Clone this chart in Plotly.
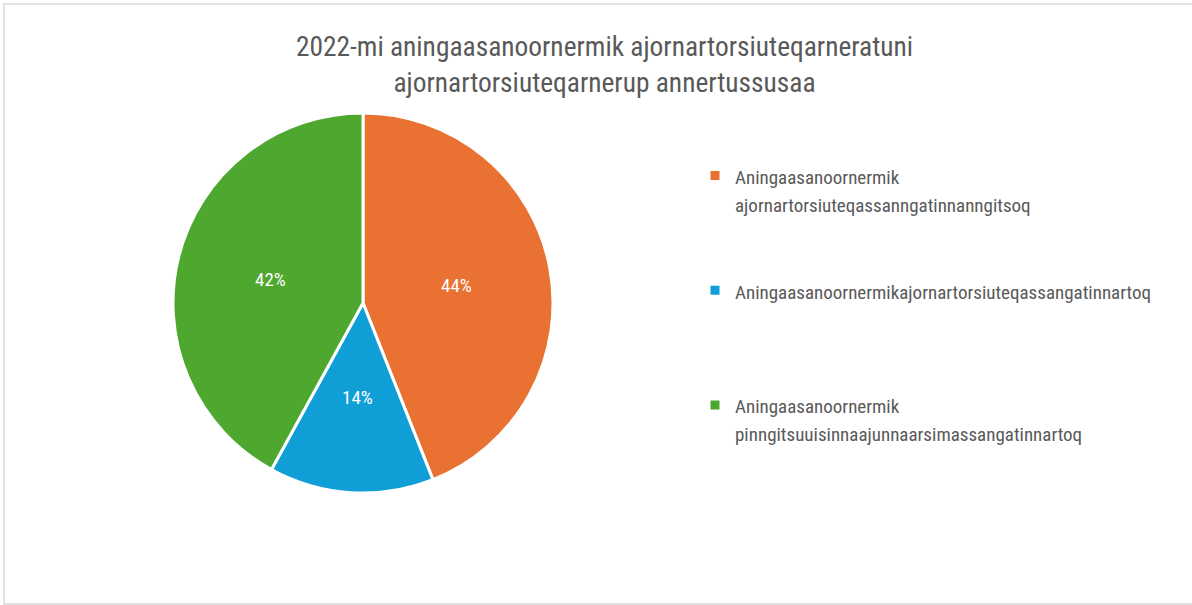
import math
import plotly.graph_objects as go

labels = [
    "Aningaasanoornermik<br>ajornartorsiuteqassanngatinnanngitsoq",
    "Aningaasanoornermikajornartorsiuteqassangatinnartoq",
    "Aningaasanoornermik<br>pinngitsuuisinnaajunnaarsimassangatinnartoq",
]
values = [44, 14, 42]
colors = ["#E97132", "#0F9ED5", "#4EA72E"]
title_text = ("2022-mi aningaasanoornermik ajornartorsiuteqarneratuni<br>"
              "ajornartorsiuteqarnerup annertussusaa")

FONT = "Liberation Sans Narrow, Roboto Condensed, Arial Narrow, Open Sans, sans-serif"

W, H = 1192, 605
cx, cy, r = 363, 303, 190

# legend text: glyphs at 19px, line pitch from legend font; pad to 4 lines per item
def legend_text(lab):
    n = lab.count("<br>") + 1
    body = "<span style='font-size:19px'>" + lab + "</span>"
    return body + "<br>&nbsp;" * (4 - n) if n < 4 else body

legend_labels = [legend_text(l) for l in labels]
legend_labels[-1] = "<span style='font-size:19px'>" + labels[-1] + "</span>"

fig = go.Figure(go.Pie(
    labels=legend_labels,
    values=values,
    sort=False,
    direction="clockwise",
    rotation=0,
    marker=dict(colors=colors, line=dict(color="white", width=3)),
    textinfo="none",
    domain=dict(x=[(cx - r) / W, (cx + r) / W], y=[(H - cy - r) / H, (H - cy + r) / H]),
    showlegend=True,
    hoverinfo="percent",
))

# percentage labels placed at half radius along each slice's mid-angle (Excel style)
total = sum(values)
annotations = []
cum = 0
for v in values:
    mid = (cum + v / 2) / total * 2 * math.pi
    cum += v
    px = cx + 0.5 * r * math.sin(mid)
    py = cy - 0.5 * r * math.cos(mid)
    annotations.append(dict(
        x=px / W, y=1 - py / H, xref="paper", yref="paper",
        text=f"{round(v / total * 100)}%", showarrow=False,
        font=dict(color="white", size=19, family=FONT),
        xanchor="center", yanchor="middle",
    ))

fig.update_layout(
    width=W, height=H,
    margin=dict(l=0, r=0, t=0, b=0),
    paper_bgcolor="white",
    plot_bgcolor="white",
    title=dict(text=title_text, x=604.5 / W, xanchor="center", y=1 - 56 / H, yanchor="top",
               font=dict(family=FONT, size=27.4, color="#595959")),
    legend=dict(
        x=695 / W, xanchor="left", y=1 - 155 / H, yanchor="top",
        font=dict(family=FONT, size=21.5, color="#595959"),
        valign="top",
        itemwidth=30,
        tracegroupgap=0,
        bgcolor="rgba(0,0,0,0)",
    ),
    annotations=annotations,
    shapes=[dict(type="rect", xref="paper", yref="paper", x0=4 / W, y0=1 / H, x1=1.2, y1=1 - 4 / H,
                 line=dict(color="#D9D9D9", width=1.5), layer="below")],
)

fig.write_html("out.html", config={"displayModeBar": False},
               post_script="document.body.style.margin='0px';")
